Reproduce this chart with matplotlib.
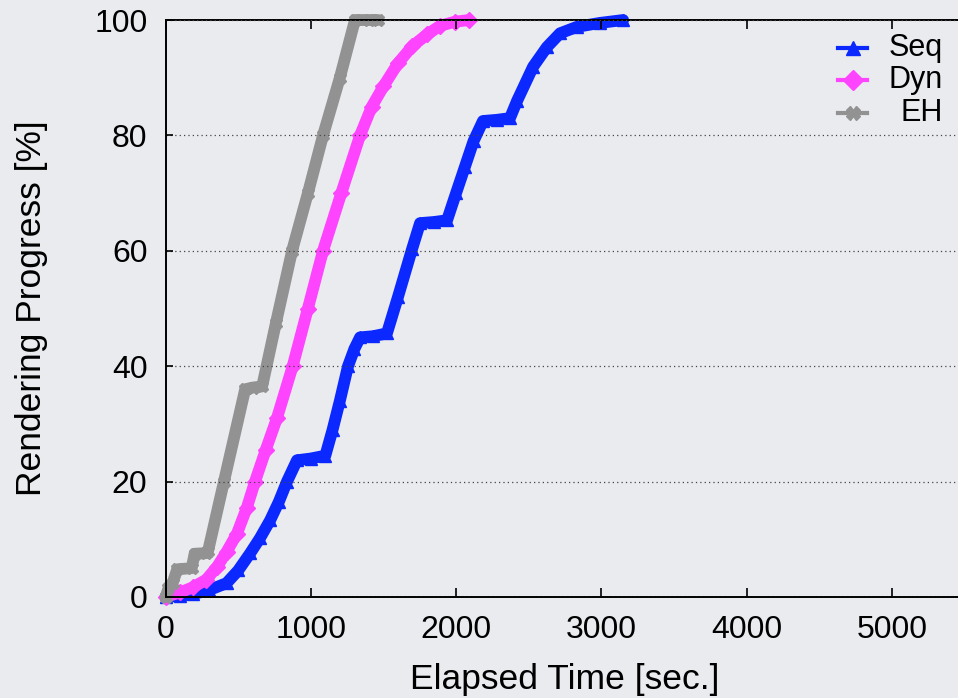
import matplotlib
matplotlib.use("Agg")
import matplotlib.pyplot as plt
from matplotlib.lines import Line2D

plt.rcParams['font.family'] = ['Liberation Sans', 'DejaVu Sans']

# ---- data ----
seq_x = [0, 100, 190, 300, 420, 500, 583, 650, 720, 780, 836, 905, 1000, 1100,
         1150, 1200, 1256, 1300, 1339, 1430, 1524, 1600, 1697, 1752, 1850, 1938,
         2000, 2060, 2120, 2185, 2280, 2371, 2420, 2530, 2625, 2716, 2830, 2990, 3150]
seq_y = [0, 0.2, 0.5, 1.2, 2.4, 4.6, 7.6, 10.2, 13.3, 16.5, 20, 23.7, 24, 24.5,
         29, 34, 40, 43, 45, 45.2, 45.7, 52, 60.3, 64.8, 65, 65.3,
         70, 74.5, 79, 82.5, 82.7, 83, 86, 91.9, 95.3, 97.7, 98.8, 99.5, 100]

dyn_x = [0, 100, 190, 280, 354, 420, 492, 560, 616, 690, 767, 875, 980, 1084,
         1210, 1339, 1420, 1500, 1600, 1700, 1800, 1890, 1990, 2090]
dyn_y = [0, 0.8, 1.7, 3, 5.2, 7.8, 11, 15.5, 20, 25.5, 31, 40, 50, 60,
         70, 80, 85, 88.5, 92.5, 95.5, 97.5, 99, 99.7, 100]

eh_x = [0, 20, 50, 80, 180, 200, 280, 293, 402, 548, 600, 665, 760, 871,
        980, 1084, 1200, 1304, 1400, 1462]
eh_y = [0, 1.5, 2.5, 4.8, 5, 7.5, 7.6, 8, 20, 36, 36.3, 36.5, 47.5, 60,
        70, 80, 90, 100, 100, 100]

series_labels = ['Seq', 'Dyn', 'EH']
series_colors = ['#0a28ff', '#ff44ff', '#929292']
series_markers = ['^', 'D', 'X']

x_ticks = [0, 1000, 2000, 3000, 4000, 5000]
y_ticks = [0, 20, 40, 60, 80, 100]

# ---- figure ----
W, H = 958, 698
bg = '#e9ebef'
fig = plt.figure(figsize=(W / 100, H / 100), dpi=100, facecolor=bg)
ax = fig.add_axes([0.1728, 0.1447, 0.834, 0.8266])
ax.set_facecolor('none')

data = [(seq_x, seq_y), (dyn_x, dyn_y), (eh_x, eh_y)]
for (xs, ys), c, m in zip(data, series_colors, series_markers):
    ax.plot(xs, ys, color=c, lw=8.5, marker=m, ms=8, mec=c, mfc=c,
            solid_joinstyle='round', solid_capstyle='round',
            clip_on=False, zorder=2)

ax.set_xlim(0, 5500)
ax.set_ylim(0, 100)
ax.set_xticks(x_ticks)
ax.set_yticks(y_ticks)
ax.tick_params(axis='both', direction='in', labelsize=23, width=1.2,
               color='black')
ax.tick_params(axis='x', length=6.5, pad=13, top=True)
ax.tick_params(axis='y', length=5, pad=13, right=True)

for s in ax.spines.values():
    s.set_linewidth(1.4)
    s.set_color('black')

ax.yaxis.grid(True, linestyle=(0, (1, 2.5)), color='#444444', linewidth=0.9)
ax.set_axisbelow(False)

ax.set_xlabel('Elapsed Time [sec.]', fontsize=25.5, labelpad=13)
ax.set_ylabel('Rendering Progress [%]', fontsize=25.5, labelpad=33)

# ---- legend (gnuplot style: sample left, text right-aligned) ----
row_y = [48, 80, 113]
for lab, c, m, yy in zip(series_labels, series_colors, series_markers, row_y):
    fy = 1 - yy / H
    fig.add_artist(Line2D([838 / W, 867 / W], [fy, fy], color=c, lw=3,
                          transform=fig.transFigure))
    fig.add_artist(Line2D([852.5 / W], [fy], color=c, marker=m, ms=10,
                          mec=c, mfc=c, transform=fig.transFigure))
    fig.text(943 / W, fy, lab, ha='right', va='center', fontsize=22)

fig.savefig('out.png', dpi=100, facecolor=bg)
